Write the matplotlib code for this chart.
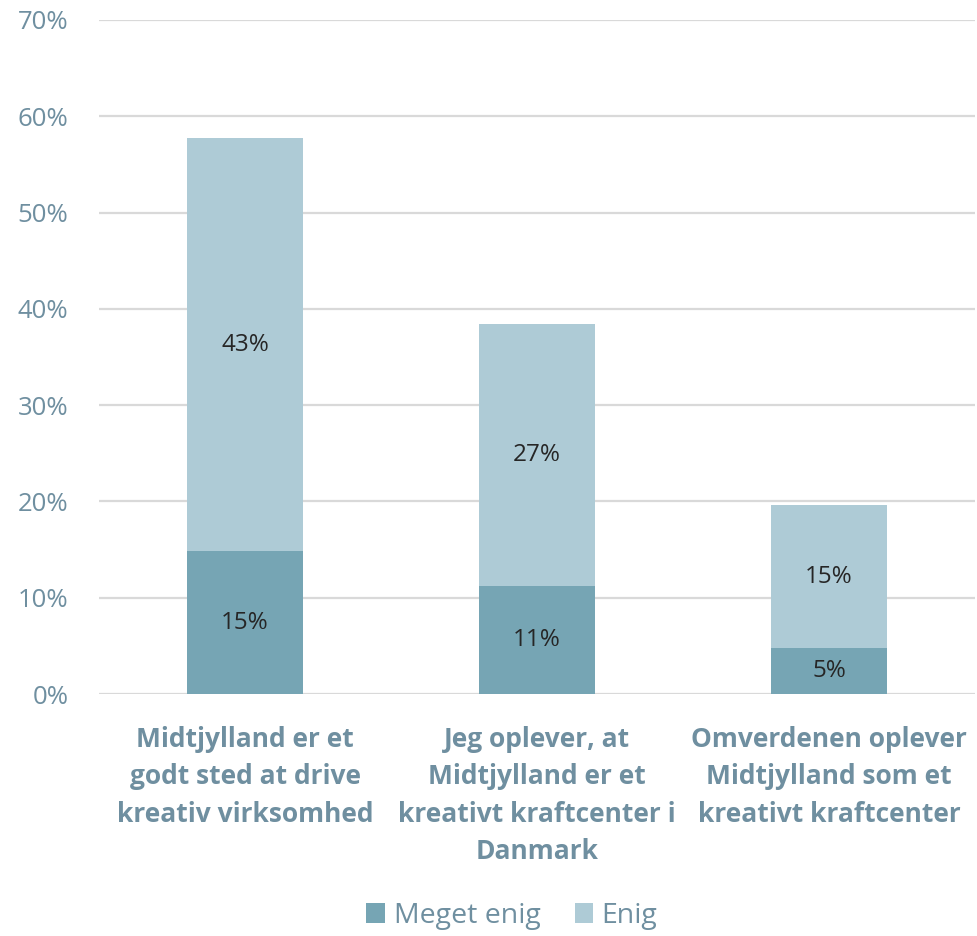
import numpy as np
import matplotlib.pyplot as plt

categories = ["Midtjylland er et\ngodt sted at drive\nkreativ virksomhed",
              "Jeg oplever, at\nMidtjylland er et\nkreativt kraftcenter i\nDanmark",
              "Omverdenen oplever\nMidtjylland som et\nkreativt kraftcenter"]
meget_enig = [14.8, 11.2, 4.8]
enig = [42.9, 27.2, 14.8]
yticks = [0, 10, 20, 30, 40, 50, 60, 70]

c_dark = "#76A5B4"
c_light = "#AECBD6"
c_text = "#6F8FA0"

plt.rcParams['font.family'] = ['Open Sans', 'DejaVu Sans']

fig = plt.figure(figsize=(9.77, 9.36), dpi=100)
ax = fig.add_axes([99/977, 242/936, 876/977, 674/936])

x = np.arange(len(categories))
w = 0.4
b1 = ax.bar(x, meget_enig, w, color=c_dark, label="Meget enig", zorder=3)
b2 = ax.bar(x, enig, w, bottom=meget_enig, color=c_light, label="Enig", zorder=3)

for i in range(len(categories)):
    ax.text(x[i], meget_enig[i] / 2, f"{round(meget_enig[i])}%", ha="center", va="center",
            fontsize=17.5, color="#262626", zorder=4)
    ax.text(x[i], meget_enig[i] + enig[i] / 2, f"{round(enig[i])}%", ha="center", va="center",
            fontsize=17.5, color="#262626", zorder=4)

ax.set_xlim(-0.5, 2.5)
ax.set_ylim(0, 70)
ax.set_yticks(yticks)
ax.set_yticklabels([f"{t}%" for t in yticks], fontsize=18.5, color=c_text)
ax.set_xticks(x)
ax.set_xticklabels(categories, fontsize=19, fontweight="bold", color=c_text, linespacing=1.5)
ax.tick_params(length=0, axis="y", pad=22)
ax.tick_params(length=0, axis="x", pad=23)
ax.grid(axis="y", color="#D9D9D9", linewidth=1.6, zorder=0)
for s in ax.spines.values():
    s.set_visible(False)

leg = fig.legend(handles=[b1, b2], loc="center", bbox_to_anchor=(512/977, 1 - 916/936), ncol=2,
                 frameon=False, fontsize=20.5, handlelength=0.65, handleheight=0.65,
                 handletextpad=0.3, columnspacing=1.2)
for t in leg.get_texts():
    t.set_color(c_text)

fig.savefig("out.png", dpi=100)
